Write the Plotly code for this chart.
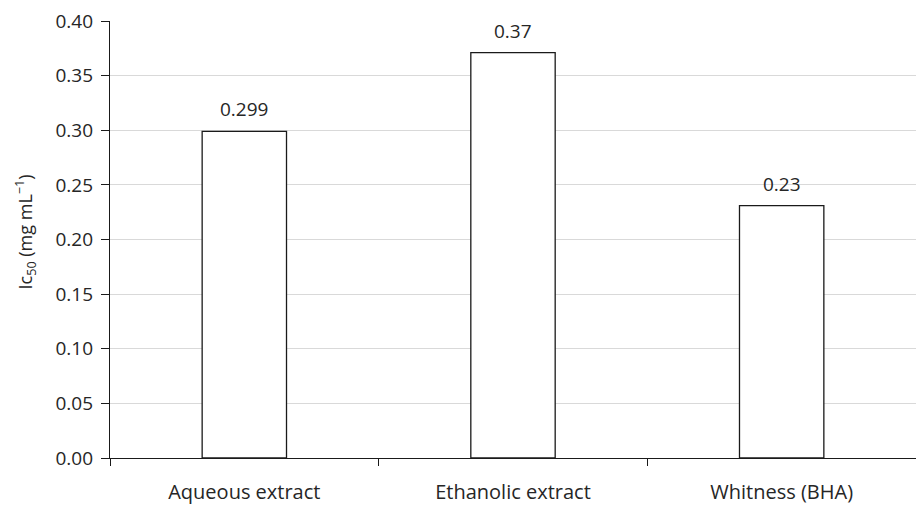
import plotly.graph_objects as go

categories = ["Aqueous extract", "Ethanolic extract", "Whitness (BHA)"]
values = [0.299, 0.371, 0.231]
labels = ["0.299", "0.37", "0.23"]
y_ticks = [0.0, 0.05, 0.10, 0.15, 0.20, 0.25, 0.30, 0.35, 0.40]
y_title = "Ic<sub>50</sub> (mg mL<sup>\u22121</sup>)"

FONT = "Open Sans, Noto Sans, sans-serif"
FS = 19
TXT = "#262626"

fig = go.Figure(go.Bar(
    x=categories, y=values,
    marker=dict(color="white", line=dict(color="#1a1a1a", width=1.3)),
    width=0.314, hoverinfo="skip",
))

for c, v, t in zip(categories, values, labels):
    fig.add_annotation(
        x=c, y=v, text=t, showarrow=False,
        yanchor="bottom", yshift=7,
        font=dict(size=FS, color=TXT, family=FONT),
    )

fig.add_annotation(
    xref="paper", yref="paper", x=-0.105, y=0.517,
    text=y_title, textangle=-90, showarrow=False,
    xanchor="center", yanchor="middle",
    font=dict(size=18, color=TXT, family=FONT),
)

fig.update_layout(
    width=916, height=508,
    margin=dict(l=110, r=0, t=21, b=50),
    paper_bgcolor="white", plot_bgcolor="white",
    showlegend=False,
    font=dict(family=FONT, size=FS, color=TXT),
)
fig.update_yaxes(
    range=[0, 0.40], tickvals=y_ticks, tickformat=".2f",
    showgrid=True, gridcolor="#d9d9d9", gridwidth=1.2,
    showline=True, linecolor="#1a1a1a", linewidth=1.3,
    ticks="outside", ticklen=8, tickcolor="#1a1a1a",
    tickfont=dict(size=FS, color=TXT), ticklabelstandoff=4,
    zeroline=False,
)
fig.update_xaxes(
    showline=True, linecolor="#1a1a1a", linewidth=1.3,
    ticks="outside", ticklen=7, tickcolor="#1a1a1a", tickson="boundaries",
    tickfont=dict(size=20, color=TXT), ticklabelstandoff=16,
    showgrid=False,
)

fig.write_html(
    "out.html",
    config={"displayModeBar": False},
    post_script="document.body.style.margin='0';document.body.style.overflow='hidden';",
)
